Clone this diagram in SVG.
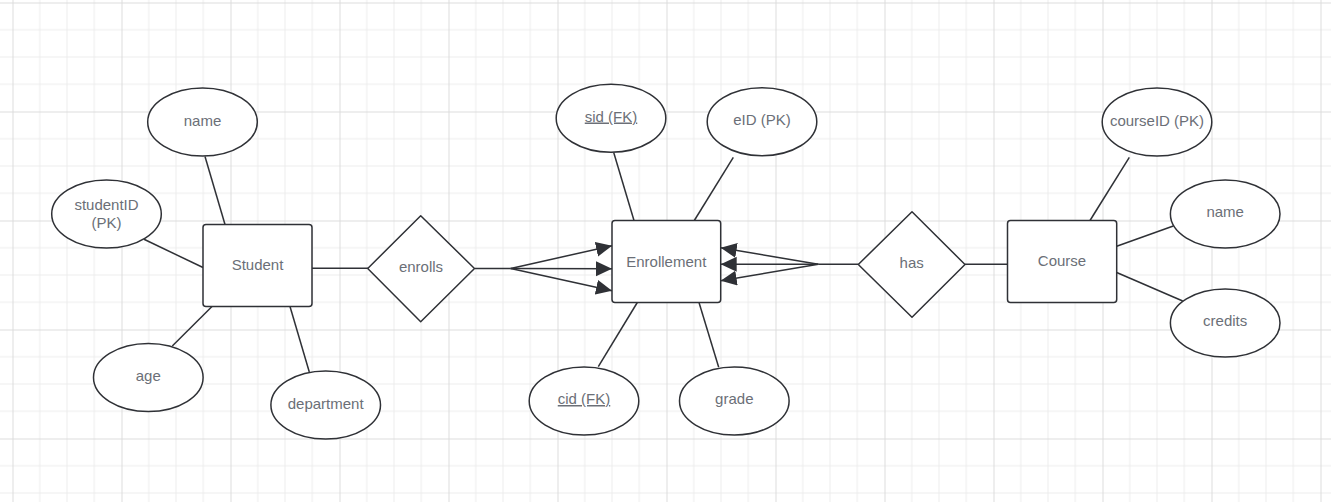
<svg xmlns="http://www.w3.org/2000/svg" width="1331" height="502" viewBox="0 0 1331 502">
<style>
.ent{fill:#ffffff;stroke:#2f3136;stroke-width:1.5}
.attr{fill:#ffffff;stroke:#2f3136;stroke-width:1.5}
.rel{fill:#ffffff;stroke:#2f3136;stroke-width:1.5}
.lbl{font-family:"Liberation Sans",Arial,sans-serif;font-size:15px;fill:#6b6f77;text-anchor:middle}
.ul{text-decoration:underline}
.conn line,.conn polyline{stroke:#2f3136;stroke-width:1.5;fill:none}
.arr{marker-end:url(#tri)}
</style>
<defs>
<marker id="tri" markerUnits="userSpaceOnUse" markerWidth="17" markerHeight="16" refX="16" refY="7.5" orient="auto" viewBox="0 0 17 16">
<path d="M0,0 L16,7.5 L0,15 z" fill="#2f3136"/>
</marker>
<pattern id="grid" patternUnits="userSpaceOnUse" x="12.5" y="2.5" width="109" height="109">
<path d="M27.25,0 V109 M54.5,0 V109 M81.75,0 V109 M0,27.25 H109 M0,54.5 H109 M0,81.75 H109" stroke="#ececec" stroke-width="1" fill="none"/>
<path d="M0.5,0 V109 M0,0.5 H109" stroke="#dcdcdc" stroke-width="1" fill="none"/>
</pattern>
</defs>
<rect width="1331" height="502" fill="#ffffff"/>
<rect width="1331" height="502" fill="url(#grid)"/>

<g class="conn" id="connectors">
<line x1="205" y1="156.5" x2="225" y2="224.5"/>
<line x1="144" y1="239.3" x2="203" y2="267.5"/>
<line x1="172.3" y1="346" x2="212" y2="306.5"/>
<line x1="290" y1="306.5" x2="309.3" y2="372"/>
<line x1="312" y1="268.3" x2="368" y2="268.3"/>
<line x1="475" y1="268.5" x2="510.7" y2="268.5"/>
<line class="arr" x1="510.7" y1="268.5" x2="612" y2="245.7"/>
<line class="arr" x1="510.7" y1="268.5" x2="612" y2="268.8"/>
<line class="arr" x1="510.7" y1="268.5" x2="612" y2="290.7"/>
<line x1="613.7" y1="152.5" x2="634" y2="220.5"/>
<line x1="733.3" y1="157.3" x2="694.3" y2="220.5"/>
<line x1="637.3" y1="302.5" x2="598.3" y2="366.7"/>
<line x1="699" y1="302.5" x2="718.7" y2="367.3"/>
<line class="arr" x1="818.3" y1="264.3" x2="720.7" y2="247.7"/>
<line class="arr" x1="818.3" y1="264.3" x2="720.7" y2="264.3"/>
<line class="arr" x1="818.3" y1="264.3" x2="720.7" y2="280.7"/>
<line x1="818.3" y1="264.3" x2="858.5" y2="264.3"/>
<line x1="965" y1="264.3" x2="1007.5" y2="264.3"/>
<line x1="1129.3" y1="157.3" x2="1090" y2="220.5"/>
<line x1="1116.7" y1="246.3" x2="1173.3" y2="226"/>
<line x1="1116.7" y1="272.5" x2="1182.7" y2="301"/>
</g>

<g id="student">
<rect class="ent" x="203" y="224.5" width="109" height="82" rx="3"/>
<text class="lbl" x="257.5" y="270">Student</text>
</g>
<g id="student-name">
<ellipse class="attr" cx="202.5" cy="122" rx="54.8" ry="34"/>
<text class="lbl" x="202.5" y="125.5">name</text>
</g>
<g id="student-id">
<ellipse class="attr" cx="106.5" cy="214" rx="54.8" ry="34"/>
<text class="lbl" x="106.5" y="209.5">studentID</text>
<text class="lbl" x="106.5" y="228">(PK)</text>
</g>
<g id="student-age">
<ellipse class="attr" cx="148.3" cy="377.5" rx="54.8" ry="34"/>
<text class="lbl" x="148.3" y="381">age</text>
</g>
<g id="student-department">
<ellipse class="attr" cx="325.7" cy="405" rx="54.8" ry="34"/>
<text class="lbl" x="325.7" y="408.5">department</text>
</g>
<g id="enrolls">
<polygon class="rel" points="367.7,268.5 420.7,215.7 474.5,268.5 420.7,321.7" stroke-linejoin="round"/>
<text class="lbl" x="421" y="272">enrolls</text>
</g>
<g id="enrollement">
<rect class="ent" x="612" y="220.5" width="108.7" height="82" rx="3"/>
<text class="lbl" x="666.3" y="266.5">Enrollement</text>
</g>
<g id="enr-sid">
<ellipse class="attr" cx="611" cy="118.2" rx="54.8" ry="34"/>
<text class="lbl ul" x="611" y="121.5">sid (FK)</text>
</g>
<g id="enr-eid">
<ellipse class="attr" cx="762" cy="121.7" rx="54.8" ry="34"/>
<text class="lbl" x="762" y="125">eID (PK)</text>
</g>
<g id="enr-cid">
<ellipse class="attr" cx="584" cy="401" rx="54.8" ry="34"/>
<text class="lbl ul" x="584" y="404">cid (FK)</text>
</g>
<g id="enr-grade">
<ellipse class="attr" cx="734.3" cy="401" rx="54.8" ry="34"/>
<text class="lbl" x="734.3" y="404">grade</text>
</g>
<g id="has">
<polygon class="rel" points="858.3,264.5 912,211.7 965,264.5 912,317.3" stroke-linejoin="round"/>
<text class="lbl" x="911.7" y="268">has</text>
</g>
<g id="course">
<rect class="ent" x="1007.5" y="220.5" width="109.2" height="82" rx="3"/>
<text class="lbl" x="1062" y="266">Course</text>
</g>
<g id="course-id">
<ellipse class="attr" cx="1157" cy="122" rx="54.8" ry="34"/>
<text class="lbl" x="1157" y="125.5">courseID (PK)</text>
</g>
<g id="course-name">
<ellipse class="attr" cx="1225.2" cy="214" rx="54.8" ry="34"/>
<text class="lbl" x="1225.2" y="217">name</text>
</g>
<g id="course-credits">
<ellipse class="attr" cx="1225.2" cy="323" rx="54.8" ry="34"/>
<text class="lbl" x="1225.2" y="326">credits</text>
</g>
</svg>
